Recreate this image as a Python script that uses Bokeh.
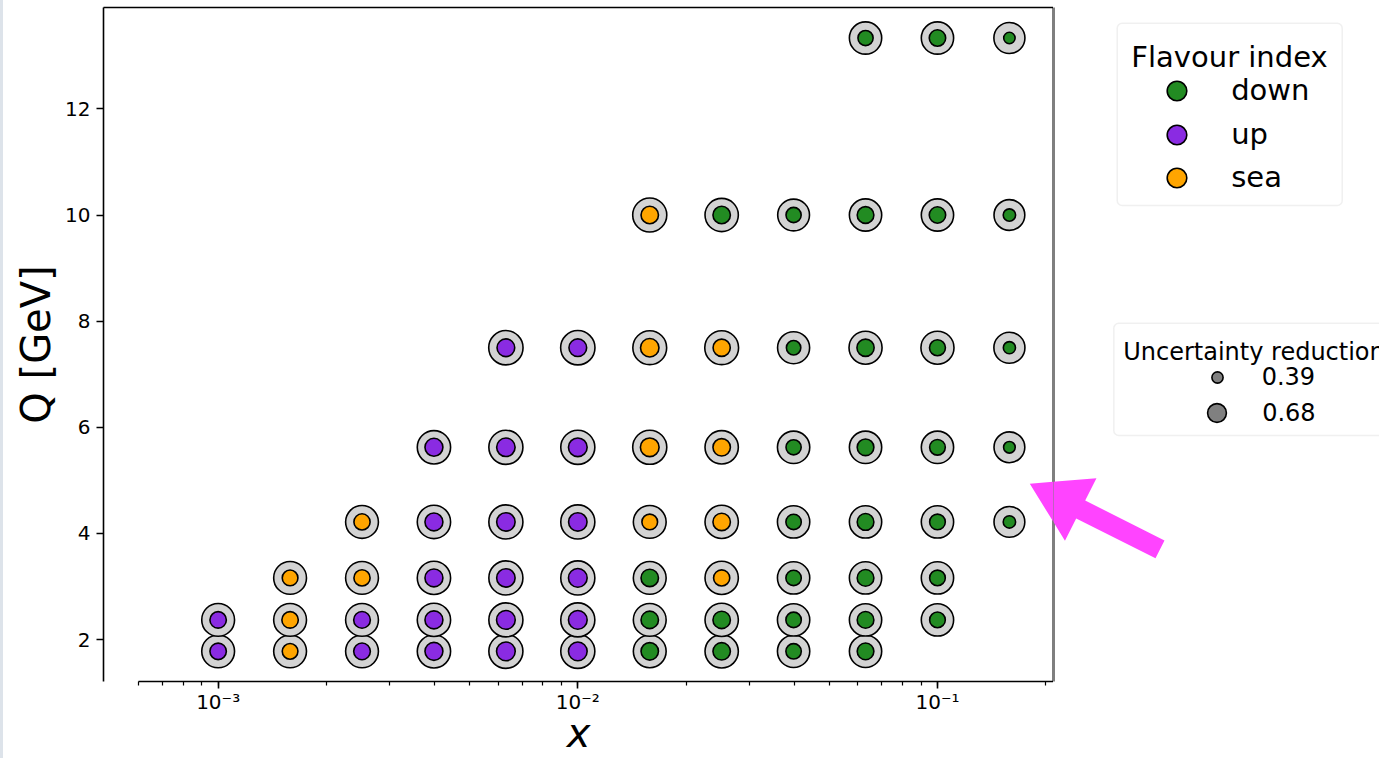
import math
from bokeh.plotting import figure
from bokeh.layouts import row
from bokeh.models import (Range1d, FixedTicker, CustomJSTickFormatter, Legend, LogAxis,
                          LegendItem, Label, BoxAnnotation, PolyAnnotation, ColumnDataSource)
from bokeh.embed import file_html
from bokeh.resources import INLINE

FONT = "DejaVu Sans"

# ---------------- data ----------------
x_grid = [0.001, 0.001585, 0.002512, 0.003981, 0.00631, 0.01,
          0.01585, 0.02512, 0.03981, 0.0631, 0.1, 0.1585]
q_grid = [1.778, 2.371, 3.162, 4.217, 5.623, 7.499, 10.0, 13.335]
row_first_col = [0, 0, 1, 2, 3, 4, 6, 9]

flavour_rows = [
    ["up", "sea", "up", "up", "up", "up", "down", "down", "down", "down"],
    ["up", "sea", "up", "up", "up", "up", "down", "down", "down", "down", "down"],
    ["sea", "sea", "up", "up", "up", "down", "sea", "down", "down", "down"],
    ["sea", "up", "up", "up", "sea", "sea", "down", "down", "down", "down"],
    ["up", "up", "up", "sea", "sea", "down", "down", "down", "down"],
    ["up", "up", "sea", "sea", "down", "down", "down", "down"],
    ["sea", "down", "down", "down", "down", "down"],
    ["down", "down", "down"],
]
reduction_rows = [
    [0.59, 0.56, 0.60, 0.65, 0.68, 0.68, 0.63, 0.63, 0.55, 0.60],
    [0.59, 0.59, 0.60, 0.65, 0.68, 0.68, 0.63, 0.63, 0.55, 0.60, 0.56],
    [0.56, 0.58, 0.65, 0.67, 0.68, 0.63, 0.58, 0.55, 0.60, 0.56],
    [0.58, 0.65, 0.67, 0.67, 0.56, 0.63, 0.55, 0.60, 0.56, 0.43],
    [0.65, 0.67, 0.68, 0.68, 0.63, 0.54, 0.60, 0.56, 0.40],
    [0.64, 0.64, 0.67, 0.62, 0.51, 0.62, 0.57, 0.42],
    [0.63, 0.63, 0.54, 0.60, 0.59, 0.43],
    [0.54, 0.59, 0.39],
]
outer_rows = [
    [1.24, 1.24, 1.24, 1.26, 1.29, 1.29, 1.24, 1.26, 1.22, 1.22],
    [1.24, 1.24, 1.24, 1.26, 1.29, 1.29, 1.24, 1.26, 1.22, 1.22, 1.22],
    [1.24, 1.24, 1.26, 1.29, 1.29, 1.24, 1.26, 1.22, 1.22, 1.22],
    [1.24, 1.26, 1.29, 1.29, 1.24, 1.26, 1.22, 1.22, 1.22, 1.16],
    [1.26, 1.29, 1.29, 1.29, 1.26, 1.22, 1.22, 1.22, 1.16],
    [1.30, 1.30, 1.28, 1.28, 1.21, 1.25, 1.25, 1.17],
    [1.29, 1.26, 1.20, 1.22, 1.22, 1.16],
    [1.22, 1.22, 1.17],
]
flavours = ["down", "up", "sea"]
flavour_colors = ["#228b22", "#8a2be2", "#ffa500"]
legend_reductions = [0.39, 0.68]
y_ticks = [2, 4, 6, 8, 10, 12]

# ---------------- layout constants (page pixels) ----------------
LW = 1.6
W, H = 1379, 758
FRAME_L, FRAME_T, FRAME_B, FRAME_R = 103, 7, 681, 1053
W_MAIN = FRAME_R
W_SIDE = W - W_MAIN


def marker_px(v):
    return 11.4 + (v - 0.39) * 25.2


def fx(X):          # main frame screen coords
    return X - FRAME_L


def fy(Y):
    return FRAME_B - Y


def gx(X):          # side panel screen coords (frame aligned with the main one)
    return X - W_MAIN


def gy(Y):
    return FRAME_B - Y


xs, ys, fl, red, outer = [], [], [], [], []
for r, q in enumerate(q_grid):
    for j, f in enumerate(flavour_rows[r]):
        xs.append(x_grid[row_first_col[r] + j])
        ys.append(q)
        fl.append(f)
        red.append(reduction_rows[r][j])
        outer.append(outer_rows[r][j])

X0, X1 = 4.80e-4, 0.2102
Y0, Y1 = 1.21, 13.91

# ================= main plot =================
p = figure(width=W_MAIN, height=H, x_axis_type="log",
           x_range=Range1d(X0, X1), y_range=Range1d(Y0, Y1),
           output_backend="svg", toolbar_location=None,
           min_border_left=FRAME_L, min_border_right=0, min_border_top=FRAME_T,
           min_border_bottom=H - FRAME_B)
p.outline_line_color = None
p.grid.visible = False
p.background_fill_color = "white"
p.border_fill_alpha = 0.0

for ax in (p.xaxis[0], p.yaxis[0]):
    ax.axis_line_color = "black"
    ax.axis_line_width = LW
    ax.major_tick_line_color = "black"
    ax.major_tick_line_width = LW
    ax.major_tick_out = 7
    ax.major_tick_in = 0
    ax.minor_tick_line_color = "black"
    ax.minor_tick_line_width = 1.2
    ax.minor_tick_out = 4
    ax.minor_tick_in = 0
    ax.major_label_text_font = FONT
    ax.major_label_text_font_size = "20px"
    ax.major_label_text_color = "black"
    ax.axis_label_text_font = FONT
    ax.axis_label_text_font_size = "40px"
    ax.axis_label_text_color = "black"

xa = p.xaxis[0]
xa.bounds = (6e-4, X1)
xa.major_label_standoff = 1
xa.axis_label = "x"
xa.axis_label_text_font_style = "italic"
xa.axis_label_standoff = -7
xa.formatter = CustomJSTickFormatter(code="""
const e = Math.round(Math.log10(tick));
const m = {"-":"\u207b","0":"\u2070","1":"\u00b9","2":"\u00b2","3":"\u00b3","4":"\u2074",
           "5":"\u2075","6":"\u2076","7":"\u2077","8":"\u2078","9":"\u2079"};
return "10" + String(e).split("").map(c => m[c]).join("");
""")

ya = p.yaxis[0]
ya.ticker = FixedTicker(ticks=y_ticks, minor_ticks=[])
ya.major_label_standoff = 6
ya.axis_label = "Q [GeV]"
ya.axis_label_text_font_style = "normal"
ya.axis_label_standoff = 3

# top spine: axis line only
p.add_layout(LogAxis(ticker=FixedTicker(ticks=[], minor_ticks=[]),
                     major_label_text_font_size="0px", major_tick_out=0, major_tick_in=0,
                     minor_tick_out=0, minor_tick_in=0, axis_line_color="black",
                     axis_line_width=LW), "above")
# right spine, inner half (outer half drawn in the side panel)
p.add_layout(BoxAnnotation(left=fx(FRAME_R) - 1, right=fx(FRAME_R) + 2,
                           left_units="screen", right_units="screen",
                           fill_color="black", fill_alpha=1.0, line_color=None))

src = ColumnDataSource(dict(x=xs, y=ys, flavour=fl, reduction=red,
                            outer_px=[marker_px(v) for v in outer]))
p.scatter("x", "y", source=src, size="outer_px", marker="circle",
          fill_color="#d3d3d3", line_color="black", line_width=LW)
for f, c in zip(flavours, flavour_colors):
    idx = [i for i, v in enumerate(fl) if v == f]
    s = ColumnDataSource(dict(x=[xs[i] for i in idx], y=[ys[i] for i in idx],
                              inner_px=[marker_px(red[i]) for i in idx]))
    p.scatter("x", "y", source=s, size="inner_px", marker="circle",
              fill_color=c, line_color="black", line_width=LW)

# ================= side panel (legends, arrow) =================
q = figure(width=W_SIDE, height=H, x_range=Range1d(1, 2), y_range=Range1d(1, 2),
           x_axis_location=None, y_axis_location=None, output_backend="svg",
           toolbar_location=None, min_border_left=0, min_border_right=0,
           min_border_top=0, min_border_bottom=0)
q.outline_line_color = None
q.grid.visible = False
q.background_fill_color = "white"
q.border_fill_color = "white"

# right spine, outer half
q.add_layout(BoxAnnotation(left=-2, right=1, top=gy(FRAME_T - LW / 2), bottom=gy(FRAME_B + LW / 2),
                           left_units="screen", right_units="screen", top_units="screen",
                           bottom_units="screen", fill_color="black", fill_alpha=1.0, line_color=None))

# legend frames
q.add_layout(BoxAnnotation(left=gx(1116.7), right=gx(1341.7), top=gy(22.7), bottom=gy(205),
                           left_units="screen", right_units="screen", top_units="screen",
                           bottom_units="screen", fill_color="white", fill_alpha=0.8,
                           line_color="#cccccc", line_width=1.5, border_radius=5))
q.add_layout(BoxAnnotation(left=gx(1113.3), right=gx(1430), top=gy(322.7), bottom=gy(435),
                           left_units="screen", right_units="screen", top_units="screen",
                           bottom_units="screen", fill_color="white", fill_alpha=0.8,
                           line_color="#cccccc", line_width=1.5, border_radius=5))

# legend titles
q.add_layout(Label(x=gx(1229), y=gy(56.7), x_units="screen", y_units="screen",
                   text="Flavour index", text_font=FONT, text_font_size="29px",
                   text_align="center", text_baseline="alphabetic", text_color="black"))
q.add_layout(Label(x=gx(1122.7), y=gy(351.7), x_units="screen", y_units="screen",
                   text="Uncertainty reduction", text_font=FONT, text_font_size="24px",
                   text_align="left", text_baseline="alphabetic", text_color="black"))


def add_item(label, color, size, cx, cy, label_x, font_size):
    sw = ColumnDataSource(dict(x=[0], y=[0]))
    rr = q.scatter("x", "y", source=sw, size=size, marker="circle", fill_color=color,
                   line_color="black", line_width=LW)
    g = int(round(size / 0.4))
    leg = Legend(items=[LegendItem(label=label, renderers=[rr])],
                 location=(gx(cx - g / 2), gy(cy + g / 2)),
                 glyph_width=g, glyph_height=g, spacing=0, padding=0,
                 label_standoff=int(round(label_x - (cx - g / 2 + g))),
                 label_text_font=FONT, label_text_font_size=font_size, label_text_color="black",
                 border_line_color=None, background_fill_color=None)
    q.add_layout(leg)


flav_cy = [90, 134, 177.3]
for f, c, cy in zip(flavours, flavour_colors, flav_cy):
    add_item(f, c, 19.7, 1176.7, cy, 1231, "29px")

unc_cy = [376.7, 412.7]
for v, cy in zip(legend_reductions, unc_cy):
    add_item(f"{v:.2f}", "#808080", marker_px(v), 1216.7, cy, 1261.7, "24px")

# pink arrow overlay, split across both panels
tip = (1029.3, 483.3)
tail = (1159.5, 548.9)
dx, dy = tail[0] - tip[0], tail[1] - tip[1]
L = math.hypot(dx, dy)
ux, uy = dx / L, dy / L
nx, ny = -uy, ux
head_len, head_half, shaft_half = 57.0, 35.0, 10.0
bx, by = tip[0] + ux * head_len, tip[1] + uy * head_len
pts = [tip,
       (bx + nx * head_half, by + ny * head_half),
       (bx + nx * shaft_half, by + ny * shaft_half),
       (tail[0] + nx * shaft_half, tail[1] + ny * shaft_half),
       (tail[0] - nx * shaft_half, tail[1] - ny * shaft_half),
       (bx - nx * shaft_half, by - ny * shaft_half),
       (bx - nx * head_half, by - ny * head_half)]
ARROW = "#ff44ff"
p.add_layout(PolyAnnotation(xs=[fx(a) for a, b in pts], ys=[fy(b) for a, b in pts],
                            xs_units="screen", ys_units="screen",
                            fill_color=ARROW, fill_alpha=1.0, line_color=None))
q.add_layout(PolyAnnotation(xs=[gx(a) for a, b in pts], ys=[gy(b) for a, b in pts],
                            xs_units="screen", ys_units="screen",
                            fill_color=ARROW, fill_alpha=1.0, line_color=None))

layout = row(p, q, spacing=0)
html = file_html(layout, INLINE)
strip = ("<style>html, body { background: linear-gradient(90deg, #dde3ea 3px, #ffffff 3px) "
         "!important; }</style>")
html = html.replace("</head>", strip + "</head>", 1)
open("out.html", "w").write(html)
